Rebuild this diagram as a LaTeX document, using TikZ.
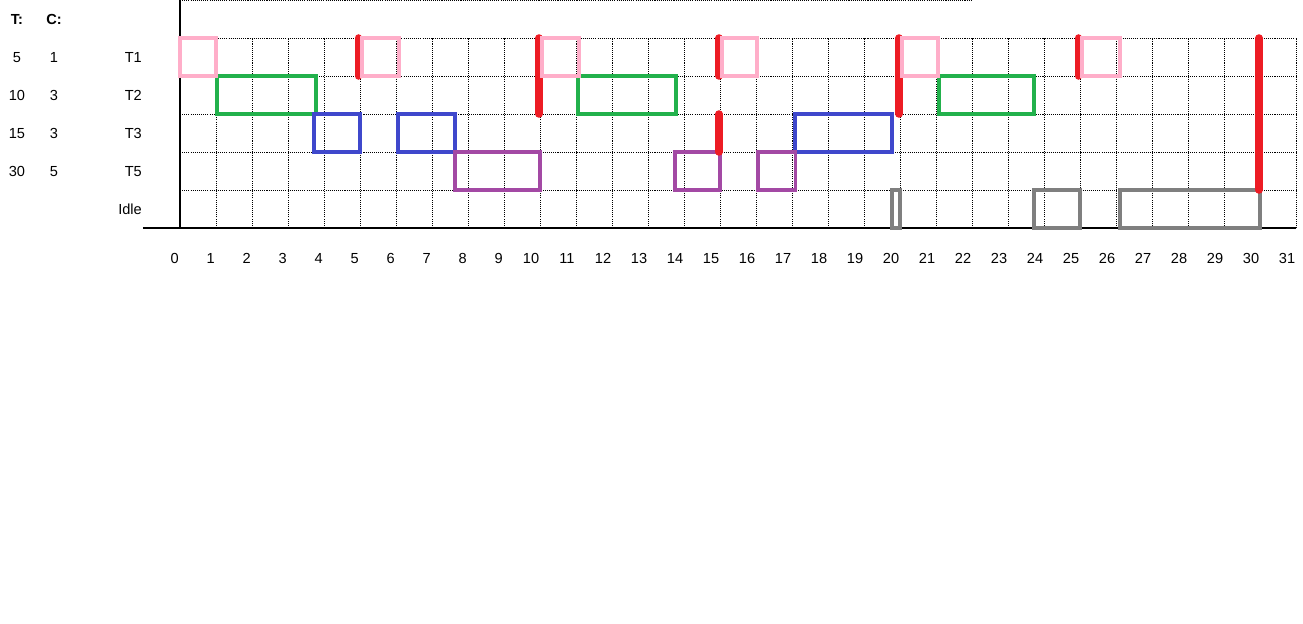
\documentclass[tikz,border=0pt]{standalone}
\usepackage{fontspec}
\setmainfont{Liberation Sans}
\usepackage{xcolor}

\definecolor{tpink}{HTML}{FFAEC9}
\definecolor{tgreen}{HTML}{22B14C}
\definecolor{tblue}{HTML}{3F48CC}
\definecolor{tpurple}{HTML}{A349A4}
\definecolor{tgray}{HTML}{7F7F7F}
\definecolor{tred}{HTML}{ED1C24}

\tikzset{
  gridline/.style={black,line width=0.55pt,dash pattern=on 0.6pt off 0.6pt},
  axisline/.style={black,line width=0.85pt},
  taskbox/.style={line width=2.1pt},
  deadline/.style={tred,line width=4.3pt,line cap=round},
  lbl/.style={font=\fontsize{8.3}{10}\selectfont,inner sep=0pt,text height=6pt,text depth=0pt}
}

\begin{document}
\begin{tikzpicture}[x=0.72cm,y=0.76cm]
\useasboundingbox (-5,-10.395) rectangle (31.194,6);

% Grid
\foreach \r in {1,...,5}
  \draw[gridline] (0,\r) -- (31,\r);
\draw[gridline] (0,6) -- (22,6);
\foreach \c in {1,...,31}
  \draw[gridline] (\c,0) -- (\c,5);

% Axes
\draw[axisline] (0,0) -- (0,6);
\draw[axisline] (-1.03,0) -- (31,0);

% Header
\node[lbl,font=\fontsize{8.3}{10}\selectfont\bfseries] (headT) at (-4.53,5.5) {T:};
\node[lbl,font=\fontsize{8.3}{10}\selectfont\bfseries] (headC) at (-3.5,5.5) {C:};

% Periods and costs
\node[lbl] (periodA) at (-4.53,4.5) {5};
\node[lbl] (costA) at (-3.5,4.5) {1};
\node[lbl] (periodB) at (-4.53,3.5) {10};
\node[lbl] (costB) at (-3.5,3.5) {3};
\node[lbl] (periodC) at (-4.53,2.5) {15};
\node[lbl] (costC) at (-3.5,2.5) {3};
\node[lbl] (periodD) at (-4.53,1.5) {30};
\node[lbl] (costD) at (-3.5,1.5) {5};

% Row labels
\node[lbl,anchor=east] (rowT1) at (-1.05,4.5) {T1};
\node[lbl,anchor=east] (rowT2) at (-1.05,3.5) {T2};
\node[lbl,anchor=east] (rowT3) at (-1.05,2.5) {T3};
\node[lbl,anchor=east] (rowT5) at (-1.05,1.5) {T5};
\node[lbl,anchor=east] (rowIdle) at (-1.05,0.5) {Idle};

% Time axis
\foreach \i in {0,...,31} {
  \ifnum\i<10 \pgfmathsetmacro\tx{\i-0.15}\else\pgfmathsetmacro\tx{\i-0.25}\fi
  \node[lbl] (tick\i) at (\tx,-0.79) {\i};
}

% T2
\draw[taskbox,tgreen] (1.03,3) rectangle (3.78,4);
\draw[taskbox,tgreen] (11.06,3) rectangle (13.78,4);
\draw[taskbox,tgreen] (21.08,3) rectangle (23.72,4);

% T3
\draw[taskbox,tblue] (3.72,2) rectangle (5,3);
\draw[taskbox,tblue] (6.06,2) rectangle (7.64,3);
\draw[taskbox,tblue] (17.08,2) rectangle (19.78,3);

% T5
\draw[taskbox,tpurple] (7.64,1) rectangle (10,2);
\draw[taskbox,tpurple] (13.75,1) rectangle (15,2);
\draw[taskbox,tpurple] (16.06,1) rectangle (17.1,2);

% Idle
\draw[taskbox,tgray] (19.78,0) rectangle (20,1);
\draw[taskbox,tgray] (23.72,0) rectangle (25,1);
\draw[taskbox,tgray] (26.11,0) rectangle (30,1);

% Deadlines
\draw[deadline] (4.96,4) -- (4.96,5);
\draw[deadline] (9.97,3) -- (9.97,5);
\draw[deadline] (14.97,4) -- (14.97,5);
\draw[deadline] (14.97,2) -- (14.97,3);
\draw[deadline] (19.97,3) -- (19.97,5);
\draw[deadline] (24.96,4) -- (24.96,5);
\draw[deadline] (29.97,1) -- (29.97,5);

% T1
\draw[taskbox,tpink] (0,4) rectangle (1,5);
\draw[taskbox,tpink] (5.05,4) rectangle (6.08,5);
\draw[taskbox,tpink] (10.05,4) rectangle (11.08,5);
\draw[taskbox,tpink] (15.05,4) rectangle (16.03,5);
\draw[taskbox,tpink] (20.05,4) rectangle (21.06,5);
\draw[taskbox,tpink] (25.05,4) rectangle (26.11,5);

\end{tikzpicture}
\end{document}
